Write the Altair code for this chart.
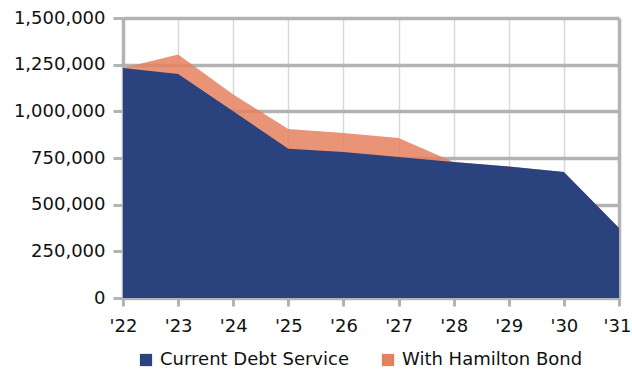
import altair as alt
import pandas as pd

years = ["'22", "'23", "'24", "'25", "'26", "'27", "'28", "'29", "'30", "'31"]
current = [1232000, 1200000, 1000000, 800000, 782000, 755000, 728000, 705000, 675000, 375000]
hamilton = [1232000, 1305000, 1090000, 905000, 884000, 857000, 728000, 705000, 675000, 375000]
series = ["Current Debt Service", "With Hamilton Bond"]
colors = ["#2A437F", "#E5805F"]
y_ticks = [0, 250000, 500000, 750000, 1000000, 1250000, 1500000]

rows = []
for yr, c, h in zip(years, current, hamilton):
    rows.append({"year": yr, "value": c, "series": series[0]})
    rows.append({"year": yr, "value": h, "series": series[1]})
df = pd.DataFrame(rows)

FONT = "DejaVu Sans"
GRAY = "#b3b3b3"

x = alt.X("year:O", sort=years, scale=alt.Scale(type="point", padding=0),
          axis=alt.Axis(title=None, labelAngle=0, labelFont=FONT, labelFontSize=18,
                        labelColor="#111111", tickColor=GRAY, tickWidth=3, tickSize=8,
                        labelPadding=11, domain=True, domainColor=GRAY, domainWidth=2,
                        labelOffset=alt.ExprRef("datum.value == \"'31\" ? -2 : 0"),
                        grid=True,
                        gridColor=alt.ExprRef("datum.value == \"'31\" ? '#b3b3b3' : '#d9d9d9'"),
                        gridWidth=alt.ExprRef("datum.value == \"'31\" ? 3.5 : 1.5")))
y = alt.Y("value:Q", scale=alt.Scale(domain=[0, 1500000], nice=False),
          axis=alt.Axis(title=None, values=y_ticks, format=",d", labelFont=FONT,
                        labelFontSize=18, labelColor="#111111", tickColor=GRAY,
                        tickWidth=3, tickSize=10, labelPadding=8, domain=True,
                        domainColor=GRAY, domainWidth=3.5,
                        grid=True, gridColor=GRAY, gridWidth=3.5))
color = alt.Color("series:N", scale=alt.Scale(domain=series, range=colors),
                  legend=alt.Legend(title=None, orient="none", direction="horizontal",
                                    legendX=14, legendY=333, symbolType="square",
                                    symbolSize=150, symbolStrokeWidth=0, symbolOpacity=1,
                                    labelFont=FONT, labelFontSize=18, labelColor="#111111",
                                    labelLimit=400, columnPadding=30, symbolOffset=0,
                                    labelOffset=5))

orange = alt.Chart(df).transform_filter(
    alt.datum.series == series[1]
).mark_area(opacity=0.85, line=False).encode(x=x, y=y, color=color)

blue = alt.Chart(df).transform_filter(
    alt.datum.series == series[0]
).mark_area(opacity=1).encode(x=x, y=y, color=color)

chart = alt.layer(orange, blue).properties(
    width=496, height=280,
    autosize=alt.AutoSizeParams(type="none"),
    padding={"left": 123, "top": 18, "right": 13, "bottom": 73},
).configure_view(strokeWidth=0).configure(background="white")

chart.save("out.html", embed_options={"renderer": "svg", "actions": False})
